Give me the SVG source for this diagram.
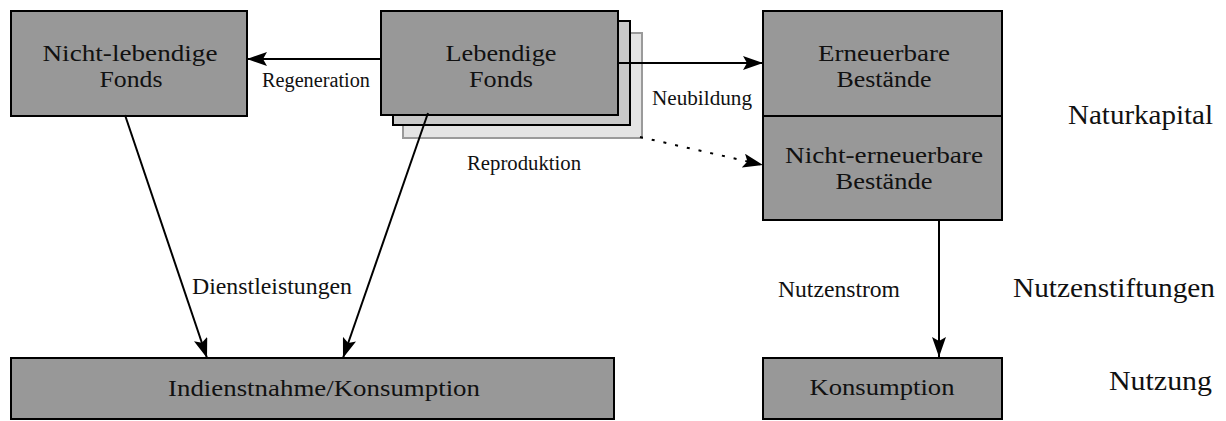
<svg xmlns="http://www.w3.org/2000/svg" width="1226" height="421" viewBox="0 0 1226 421">
<style>
.box{fill:#989898;stroke:#000;stroke-width:2}
.t{font-family:"Liberation Serif","Times New Roman",serif;fill:#111}
.n{font-size:23px;text-anchor:middle}
.l{font-size:21px}
.r{font-size:28px}
.c{stroke:#000;stroke-width:2;fill:none}
</style>
<defs>
<marker id="ah" viewBox="0 0 20 14" refX="20" refY="7" markerWidth="20" markerHeight="14" markerUnits="userSpaceOnUse" orient="auto">
<path d="M0,0 L20,7 L0,14 L4,7 Z" fill="#000"/>
</marker>
</defs>
<rect width="1226" height="421" fill="#fff"/>
<g id="node-nicht-lebendige">
<rect class="box" x="11" y="11" width="236" height="105"/>
<text class="t n" x="130" y="61" textLength="175" lengthAdjust="spacingAndGlyphs">Nicht-lebendige</text>
<text class="t n" x="131" y="87" textLength="63" lengthAdjust="spacingAndGlyphs">Fonds</text>
</g>
<g id="node-lebendige">
<rect x="403" y="33" width="239" height="105" fill="#e4e4e4" stroke="#9a9a9a" stroke-width="2"/>
<rect x="393" y="21" width="237" height="104" fill="#c9c9c9" stroke="#000" stroke-width="2"/>
<rect class="box" x="381" y="11" width="237" height="104"/>
<text class="t n" x="501" y="61" textLength="111" lengthAdjust="spacingAndGlyphs">Lebendige</text>
<text class="t n" x="501" y="87" textLength="64" lengthAdjust="spacingAndGlyphs">Fonds</text>
</g>
<g id="node-erneuerbare">
<rect class="box" x="763" y="11" width="239" height="105"/>
<text class="t n" x="884" y="61" textLength="132" lengthAdjust="spacingAndGlyphs">Erneuerbare</text>
<text class="t n" x="884" y="87" textLength="95" lengthAdjust="spacingAndGlyphs">Bestände</text>
</g>
<g id="node-nicht-erneuerbare">
<rect class="box" x="763" y="116" width="239" height="104"/>
<text class="t n" x="884" y="163" textLength="198" lengthAdjust="spacingAndGlyphs">Nicht-erneuerbare</text>
<text class="t n" x="884" y="189" textLength="97" lengthAdjust="spacingAndGlyphs">Bestände</text>
</g>
<g id="node-indienstnahme">
<rect class="box" x="11" y="358" width="603" height="61"/>
<text class="t n" x="324" y="396" textLength="312" lengthAdjust="spacingAndGlyphs">Indienstnahme/Konsumption</text>
</g>
<g id="node-konsumption">
<rect class="box" x="763" y="358" width="239" height="61"/>
<text class="t n" x="882" y="395" textLength="145" lengthAdjust="spacingAndGlyphs">Konsumption</text>
</g>
<g id="connectors">
<line class="c" x1="381" y1="59" x2="247" y2="59" marker-end="url(#ah)"/>
<line class="c" x1="618" y1="63" x2="763" y2="63" marker-end="url(#ah)"/>
<line class="c" x1="640" y1="137" x2="763" y2="165" stroke-dasharray="3 9" marker-end="url(#ah)"/>
<line class="c" x1="125" y1="115" x2="207" y2="358" marker-end="url(#ah)"/>
<line class="c" x1="428" y1="113" x2="343" y2="358" marker-end="url(#ah)"/>
<line class="c" x1="939" y1="220" x2="939" y2="357" marker-end="url(#ah)"/>
</g>
<g id="labels">
<text class="t" x="262" y="87" font-size="20" textLength="108" lengthAdjust="spacingAndGlyphs">Regeneration</text>
<text class="t l" x="652" y="105" textLength="100" lengthAdjust="spacingAndGlyphs">Neubildung</text>
<text class="t l" x="467" y="170" textLength="114" lengthAdjust="spacingAndGlyphs">Reproduktion</text>
<text class="t" x="192" y="294" font-size="24" textLength="160" lengthAdjust="spacingAndGlyphs">Dienstleistungen</text>
<text class="t" x="778" y="297" font-size="24" textLength="122" lengthAdjust="spacingAndGlyphs">Nutzenstrom</text>
<text class="t r" x="1068" y="124" textLength="145" lengthAdjust="spacingAndGlyphs">Naturkapital</text>
<text class="t r" x="1013" y="297" textLength="202" lengthAdjust="spacingAndGlyphs">Nutzenstiftungen</text>
<text class="t r" x="1109" y="390" textLength="103" lengthAdjust="spacingAndGlyphs">Nutzung</text>
</g>
</svg>
